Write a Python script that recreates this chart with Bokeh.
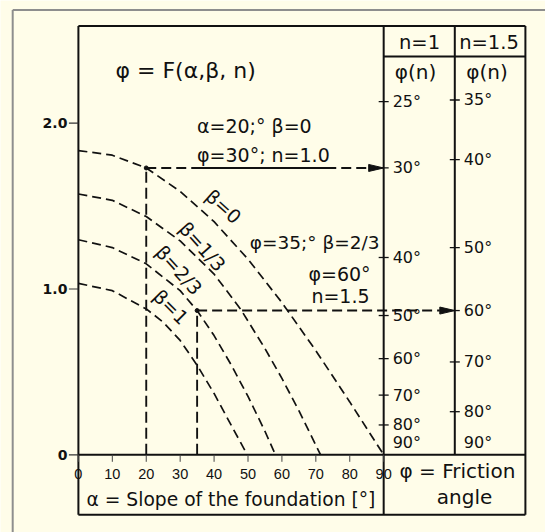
import math
from bokeh.plotting import figure
from bokeh.models import Range1d
from bokeh.core.properties import value
from bokeh.embed import file_html
from bokeh.resources import INLINE

# ---------------- data ----------------
# curves: y value against foundation slope alpha [deg] for each beta
beta_labels = ["β=0", "β=1/3", "β=2/3", "β=1"]
alpha_b0 = [0, 10, 20, 30, 40, 50, 60, 70, 80, 90]
y_b0 = [1.835, 1.807, 1.73, 1.589, 1.406, 1.18, 0.918, 0.628, 0.319, 0.0]
alpha_b13 = [0, 10, 20, 30, 40, 47.8, 55, 60, 65, 71.4]
y_b13 = [1.573, 1.535, 1.437, 1.29, 1.09, 0.879, 0.641, 0.461, 0.266, 0.0]
alpha_b23 = [0, 10, 20, 30, 35, 40, 45, 50, 55, 58.1]
y_b23 = [1.297, 1.25, 1.152, 0.99, 0.87, 0.719, 0.544, 0.352, 0.142, 0.0]
alpha_b1 = [0, 10, 20, 25, 30, 35, 40, 45, 49.8]
y_b1 = [1.034, 0.99, 0.88, 0.80, 0.69, 0.54, 0.37, 0.18, 0.0]

# friction-angle scales (n = 1 and n = 1.5)
phi_n1 = [25, 30, 40, 50, 60, 70, 80]
y_n1 = [2.13, 1.73, 1.19, 0.84, 0.58, 0.36, 0.18]
phi_n15 = [35, 40, 50, 60, 70, 80]
y_n15 = [2.14, 1.78, 1.25, 0.87, 0.56, 0.26]

# axis ticks
x_ticks = [0, 10, 20, 30, 40, 50, 60, 70, 80, 90]
y_ticks = [0, 1, 2]
y_tick_labels = ["0", "1.0", "2.0"]

# worked examples: alpha, phi, n
ex_alpha = [20, 35]
ex_phi = [30, 60]
ex_n = [1.0, 1.5]

# ---------------- layout ----------------
W, H = 545, 532
X0, Y0 = 77.9, 454.3          # pixel position of alpha=0 / y=0
KX, KY = 3.392, 165.8         # pixels per degree / per unit
def ax(px):
    return (px - X0) / KX
def ay(py):
    return (Y0 - py) / KY
def dx(px):
    return px / KX
def dy(py):
    return py / KY

INK = "#111111"
BG = "#fffde9"
GRAY = "#8e8e8e"
FONT = "DejaVu Sans"

p = figure(width=W, height=H, x_range=Range1d(ax(0), ax(W)), y_range=Range1d(ay(H), ay(0)),
           x_axis_location=None, y_axis_location=None, toolbar_location=None,
           output_backend="svg", min_border=0)
p.grid.visible = False
p.outline_line_color = None
p.background_fill_color = BG
p.border_fill_color = BG

RIGHT = ax(524.9)
TOP = ay(25.5)
BOTTOM = ay(514.3)
AX_N1 = 90
AX_N15 = ax(454.3)
HEADER = ay(56.0)

def label(x, y, txt, size, align="left", baseline="middle", angle=0.0,
          font=FONT, style="normal"):
    p.text(x=[x], y=[y], text=[txt], text_font=value(font),
           text_font_size=value(f"{size}px"), text_align=align,
           text_baseline=baseline, angle=angle, text_color=INK,
           text_font_style=style)

# outer grey box edge
p.segment(x0=[ax(12.2), ax(12.2)], y0=[ay(9.5), ay(9.5)], x1=[ax(12.2), ax(W)],
          y1=[ay(H), ay(9.5)], line_color=GRAY, line_width=2)

# frame, scale columns and header
p.segment(x0=[0, 0, 0, RIGHT, 0, AX_N1, AX_N15, AX_N1],
          y0=[BOTTOM, TOP, BOTTOM, BOTTOM, 0, BOTTOM, 0, HEADER],
          x1=[0, RIGHT, RIGHT, RIGHT, RIGHT, AX_N1, AX_N15, RIGHT],
          y1=[TOP, TOP, BOTTOM, TOP, 0, TOP, TOP, HEADER],
          line_color=INK, line_width=2)

# x ticks and labels
p.segment(x0=x_ticks, y0=[0] * len(x_ticks), x1=x_ticks, y1=[-dy(7)] * len(x_ticks),
          line_color="#444444", line_width=1)
p.text(x=x_ticks, y=[ay(473)] * len(x_ticks), text=[str(t) for t in x_ticks],
       text_font=value("Liberation Sans"), text_font_size=value("14.5px"),
       text_align="center", text_baseline="middle", text_color=INK)

# y ticks and labels
p.segment(x0=[-dx(9.5)] * 3, y0=y_ticks, x1=[0] * 3, y1=y_ticks, line_color="#333333", line_width=1.2)
p.text(x=[-dx(11)] * 3, y=y_ticks, text=y_tick_labels, text_font=value(FONT),
       text_font_size=value("14px"), text_font_style="bold", text_align="right",
       text_baseline="middle", text_color=INK)

# friction-angle scales
for axis_x, phis, ys in [(AX_N1, phi_n1, y_n1), (AX_N15, phi_n15, y_n15)]:
    p.segment(x0=[axis_x - dx(5)] * len(ys), y0=ys, x1=[axis_x + dx(5)] * len(ys), y1=ys,
              line_color=INK, line_width=1.3)
    p.text(x=[axis_x + dx(9)] * len(ys), y=ys, text=[f"{v}°" for v in phis],
           text_font=value(FONT), text_font_size=value("16px"), text_align="left",
           text_baseline="middle", text_color=INK)
    label(axis_x + dx(9), dy(12.5), "90°", 16)

# beta curves
for a, y in [(alpha_b0, y_b0), (alpha_b13, y_b13), (alpha_b23, y_b23), (alpha_b1, y_b1)]:
    p.line(a, y, line_color=INK, line_width=1.7, line_dash="9 5")

# worked examples: vertical from alpha up to the curve, across to the phi scale
ex_y = [y_n1[phi_n1.index(ex_phi[0])], y_n15[phi_n15.index(ex_phi[1])]]
ex_target = [AX_N1, AX_N15]
head_len, head_half = dx(15), dy(3.5)
for a, y, tx in zip(ex_alpha, ex_y, ex_target):
    p.line([a, a], [0, y], line_color=INK, line_width=1.9, line_dash="11 5")
    p.line([a, tx - head_len], [y, y], line_color=INK, line_width=1.9, line_dash="10 5")
    p.patch([tx - head_len, tx, tx - head_len], [y + head_half, y, y - head_half],
            fill_color=INK, line_color=INK, line_width=1)
    p.scatter([a], [y], size=4, color=INK)
# underline of the first example text
p.line([ax(196.5), ax(332)], [ex_y[0], ex_y[0]], line_color=INK, line_width=1.9)

# texts
label(ax(115), ay(70), "φ = F(α,β, n)", 22)
label(ax(196.5), ay(125), "α=20;° β=0", 19)
label(ax(196.5), ay(154.5), "φ=30°; n=1.0", 19)
label(ax(379), ay(241.7), "φ=35;° β=2/3", 18.5, align="right")
label(ax(339), ay(273.3), "φ=60°", 19, align="center")
label(ax(340), ay(295), "n=1.5", 19, align="center")

label(ax(419), ay(41.5), "n=1", 19.5, align="center")
label(ax(488.5), ay(41.5), "n=1.5", 19.5, align="center")
label(ax(415), ay(71.5), "φ(n)", 20, align="center")
label(ax(486.5), ay(71.5), "φ(n)", 20, align="center")

# rotated beta labels, sitting on their curves
beta_pos = [(ax(223), ay(206), -42), (ax(202), ay(246), -48),
            (ax(178.5), ay(269.5), -48), (ax(170.5), ay(306.5), -45)]
for txt, (x, y, ang) in zip(beta_labels, beta_pos):
    label(x, y, txt, 19, align="center", angle=math.radians(ang))

# captions
label(ax(86), ay(498.5), "α =  Slope of the foundation [°]", 18.7)
label(ax(399), ay(470), "φ = Friction", 20)
label(ax(464), ay(496), "angle", 20, align="center")

open("out.html", "w").write(file_html(p, INLINE))
